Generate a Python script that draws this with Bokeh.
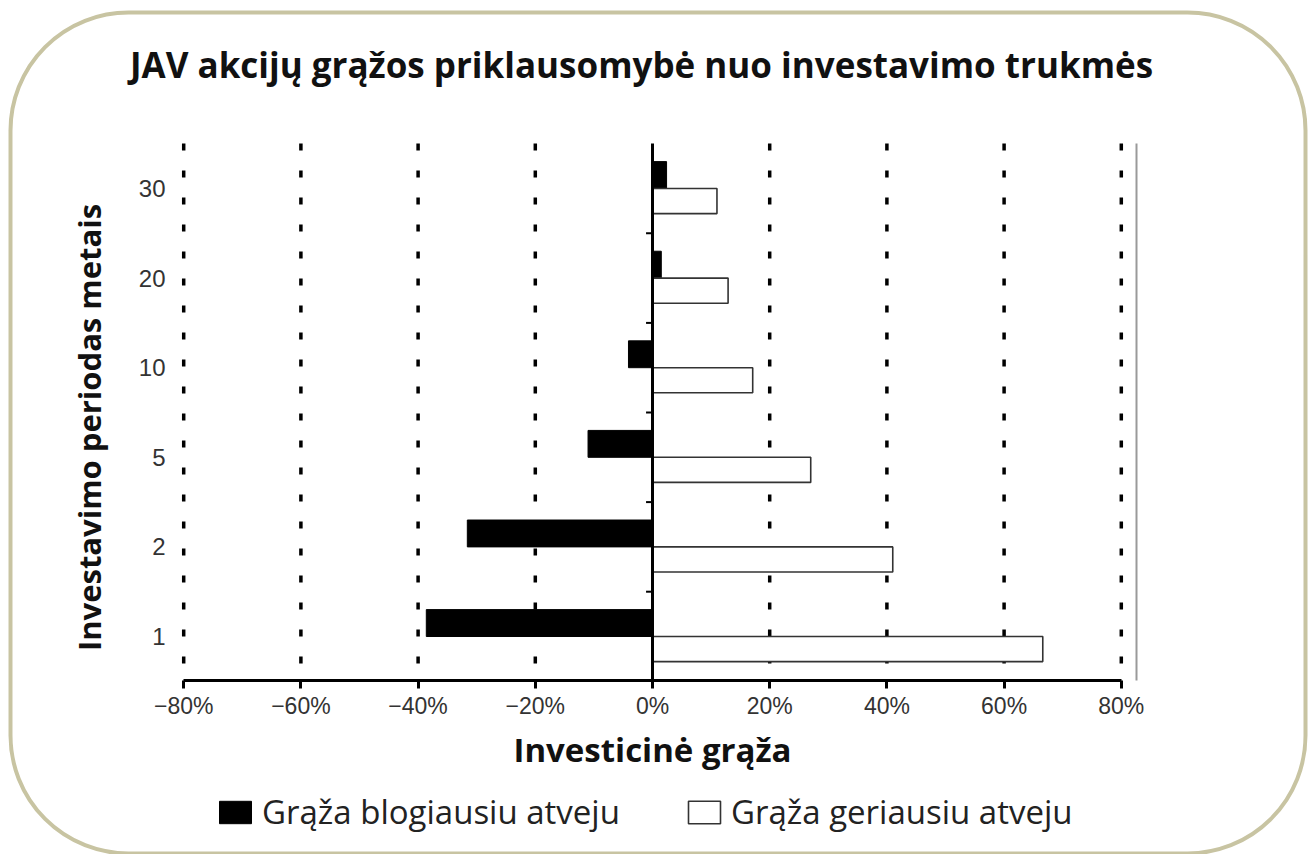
from bokeh.plotting import figure
from bokeh.models import (FixedTicker, Label, BoxAnnotation, Legend, LegendItem,
                          Range1d, ColumnDataSource)
from bokeh.embed import file_html
from bokeh.resources import INLINE

# ---- data ----
periods = ["1", "2", "5", "10", "20", "30"]
worst = [-38.6, -31.6, -11.0, -4.1, 1.5, 2.4]
best = [66.6, 41.0, 27.0, 17.1, 12.9, 11.0]
x_ticks = [-80, -60, -40, -20, 0, 20, 40, 60, 80]
x_tick_labels = ["\u221280%", "\u221260%", "\u221240%", "\u221220%", "0%", "20%", "40%", "60%", "80%"]
title_text = "JAV akcijų grąžos priklausomybė nuo investavimo trukmės"
x_title = "Investicinė grąža"
y_title = "Investavimo periodas metais"
legend_labels = ["Grąža blogiausiu atveju", "Grąža geriausiu atveju"]

# ---- layout constants (pixel geometry) ----
W, H = 1308, 854
PXU = 5.86          # px per percent
PYU = 89.6          # px per category step
ZX = 652            # px of 0 %
CY5 = 188           # px of last category
X0 = -ZX / PXU
X1 = X0 + W / PXU
Y1 = 5 + CY5 / PYU
Y0 = Y1 - H / PYU


def xd(px):
    return X0 + px / PXU


def yd(py):
    return Y1 - py / PYU


PLOT_TOP, PLOT_BOTTOM = yd(143), yd(680)
RIGHT_LINE = xd(1136)

pos = list(range(len(periods)))
src_w = ColumnDataSource(dict(y=[v + 0.15 for v in pos], right=worst))
src_b = ColumnDataSource(dict(y=[v - 0.14 for v in pos], right=best))

p = figure(width=W, height=H, x_range=Range1d(X0, X1), y_range=Range1d(Y0, Y1),
           output_backend="svg", toolbar_location=None,
           min_border_left=0, min_border_right=0, min_border_top=0, min_border_bottom=0)
p.outline_line_color = None
p.background_fill_color = "white"
p.border_fill_color = "white"
p.xgrid.visible = False
p.ygrid.visible = False

# rounded frame
p.add_layout(BoxAnnotation(left=xd(10), right=xd(1305), top=yd(12), bottom=yd(853),
                           fill_alpha=0, line_color="#c8c4a2", line_alpha=1.0, line_width=4,
                           border_radius=118, editable=False, level="underlay"))

# dotted vertical grid lines at the x ticks (except 0)
gx = [t for t in x_ticks if t != 0]
p.segment(x0=gx, x1=gx, y0=[PLOT_TOP] * len(gx), y1=[PLOT_BOTTOM] * len(gx),
          line_color="black", line_width=3.5, line_dash="7 20", level="underlay")

# right frame line
p.segment(x0=[RIGHT_LINE], x1=[RIGHT_LINE], y0=[PLOT_TOP], y1=[PLOT_BOTTOM],
          line_color="#9a9a9a", line_width=2)

# bars
r_w = p.hbar(y="y", height=0.30, left=0, right="right", source=src_w,
             fill_color="black", line_color="black", line_width=1)
r_b = p.hbar(y="y", height=0.28, left=0, right="right", source=src_b,
             fill_color="white", line_color="#333333", line_width=1.6)

# zero line
p.segment(x0=[0], x1=[0], y0=[PLOT_TOP], y1=[PLOT_BOTTOM], line_color="black", line_width=3)

# small ticks between categories on the zero line
mids = [v + 0.5 for v in pos[:-1]]
p.segment(x0=[-1.1] * len(mids), x1=[0] * len(mids), y0=mids, y1=mids,
          line_color="black", line_width=2)

# x axis
xa = p.xaxis[0]
xa.fixed_location = PLOT_BOTTOM
xa.ticker = FixedTicker(ticks=x_ticks)
xa.major_label_overrides = {t: l for t, l in zip(x_ticks, x_tick_labels)}
xa.bounds = (-80, 80)
xa.axis_line_width = 3
xa.axis_line_color = "black"
xa.major_tick_out = 8
xa.major_tick_in = 0
xa.major_tick_line_width = 3
xa.minor_tick_line_color = None
xa.major_label_standoff = 4
xa.major_label_text_font = "Liberation Sans"
xa.major_label_text_font_size = "23px"
xa.major_label_text_color = "#333333"
xa.axis_label = x_title
xa.axis_label_text_font = "Open Sans"
xa.axis_label_text_font_style = "bold"
xa.axis_label_text_font_size = "33px"
xa.axis_label_text_color = "#111111"
xa.axis_label_standoff = 5

# y axis
ya = p.yaxis[0]
ya.fixed_location = xd(177)
ya.ticker = FixedTicker(ticks=pos)
ya.major_label_overrides = {i: s for i, s in zip(pos, periods)}
ya.axis_line_color = None
ya.major_tick_line_color = None
ya.minor_tick_line_color = None
ya.major_label_standoff = 6
ya.major_label_text_font = "Liberation Sans"
ya.major_label_text_font_size = "24px"
ya.major_label_text_color = "#333333"
ya.axis_label = y_title
ya.axis_label_text_font = "Open Sans"
ya.axis_label_text_font_style = "bold"
ya.axis_label_text_font_size = "31px"
ya.axis_label_text_color = "#111111"
ya.axis_label_standoff = 26

# title
p.add_layout(Label(x=xd(641), y=yd(64), text=title_text, text_align="center",
                   text_baseline="middle", text_font="Open Sans", text_font_style="bold",
                   text_font_size="35px", text_color="#111111"))

# legend
legend = Legend(items=[LegendItem(label=legend_labels[0], renderers=[r_w]),
                       LegendItem(label=legend_labels[1], renderers=[r_b])],
                orientation="horizontal", location=(215, H - 834),
                glyph_width=40, glyph_height=28, label_height=28,
                label_standoff=7, spacing=64, padding=0, margin=0,
                label_text_font="Open Sans", label_text_font_size="33px",
                label_text_color="#222222", border_line_color=None,
                background_fill_alpha=0)
p.add_layout(legend)

open("out.html", "w").write(file_html(p, INLINE))
